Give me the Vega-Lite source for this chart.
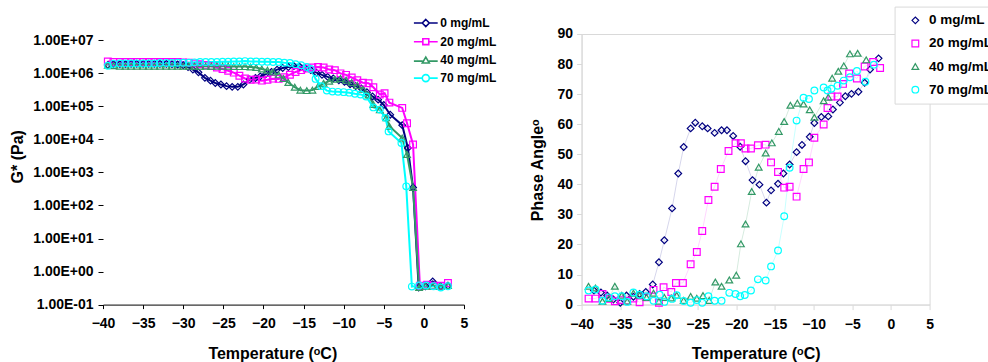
{
  "$schema": "https://vega.github.io/schema/vega-lite/v6.json",
  "background": "white",
  "padding": {"left": 9, "top": 5, "right": 0, "bottom": 0},
  "bounds": "flush",
  "spacing": 117.6,
  "resolve": {"scale": {"color": "independent", "shape": "independent"}, "legend": {"color": "independent", "shape": "independent"}},
  "config": {
    "font": "Liberation Sans",
    "axis": {"labelFont": "Liberation Sans", "labelFontWeight": "bold", "labelFontSize": 14, "labelColor": "black", "titleFont": "Liberation Sans", "titleFontWeight": "bold", "titleFontSize": 16, "titleColor": "black", "grid": false, "labelFlush": false, "labelOverlap": false, "labelBound": false},
    "legend": {"labelFont": "Liberation Sans", "labelFontWeight": "bold", "labelColor": "black"}
  },
  "datasets": {
    "gstar": [
      {"s":"0 mg/mL","t":-39.4,"g":1.8e6},{"s":"0 mg/mL","t":-38.7,"g":1.9e6},{"s":"0 mg/mL","t":-37.9,"g":1.9e6},{"s":"0 mg/mL","t":-37.2,"g":1.9e6},{"s":"0 mg/mL","t":-36.5,"g":1.95e6},{"s":"0 mg/mL","t":-35.8,"g":1.95e6},{"s":"0 mg/mL","t":-35.0,"g":1.95e6},{"s":"0 mg/mL","t":-34.3,"g":1.95e6},{"s":"0 mg/mL","t":-33.6,"g":1.95e6},{"s":"0 mg/mL","t":-32.9,"g":1.95e6},{"s":"0 mg/mL","t":-32.1,"g":1.95e6},{"s":"0 mg/mL","t":-31.4,"g":1.9e6},{"s":"0 mg/mL","t":-30.7,"g":1.85e6},{"s":"0 mg/mL","t":-30.0,"g":1.75e6},{"s":"0 mg/mL","t":-29.4,"g":1.55e6},{"s":"0 mg/mL","t":-28.8,"g":1.3e6},{"s":"0 mg/mL","t":-28.1,"g":1.07e6},{"s":"0 mg/mL","t":-27.3,"g":7.3e5},{"s":"0 mg/mL","t":-26.6,"g":6.0e5},{"s":"0 mg/mL","t":-26.0,"g":5.1e5},{"s":"0 mg/mL","t":-25.3,"g":4.6e5},{"s":"0 mg/mL","t":-24.6,"g":4.1e5},{"s":"0 mg/mL","t":-23.9,"g":3.9e5},{"s":"0 mg/mL","t":-23.2,"g":3.9e5},{"s":"0 mg/mL","t":-22.5,"g":4.6e5},{"s":"0 mg/mL","t":-21.7,"g":6.5e5},{"s":"0 mg/mL","t":-21.0,"g":7.2e5},{"s":"0 mg/mL","t":-20.4,"g":8.1e5},{"s":"0 mg/mL","t":-19.7,"g":9.5e5},{"s":"0 mg/mL","t":-19.0,"g":1.1e6},{"s":"0 mg/mL","t":-18.3,"g":1.3e6},{"s":"0 mg/mL","t":-17.6,"g":1.45e6},{"s":"0 mg/mL","t":-16.9,"g":1.55e6},{"s":"0 mg/mL","t":-16.2,"g":1.65e6},{"s":"0 mg/mL","t":-15.5,"g":1.6e6},{"s":"0 mg/mL","t":-14.8,"g":1.45e6},{"s":"0 mg/mL","t":-14.1,"g":1.25e6},{"s":"0 mg/mL","t":-13.4,"g":1.05e6},{"s":"0 mg/mL","t":-12.7,"g":9.0e5},{"s":"0 mg/mL","t":-12.0,"g":7.8e5},{"s":"0 mg/mL","t":-11.3,"g":7.0e5},{"s":"0 mg/mL","t":-10.6,"g":6.2e5},{"s":"0 mg/mL","t":-9.9,"g":5.5e5},{"s":"0 mg/mL","t":-9.2,"g":4.7e5},{"s":"0 mg/mL","t":-8.5,"g":4.1e5},{"s":"0 mg/mL","t":-7.8,"g":3.5e5},{"s":"0 mg/mL","t":-7.1,"g":2.7e5},{"s":"0 mg/mL","t":-6.4,"g":2.0e5},{"s":"0 mg/mL","t":-5.7,"g":1.6e5},{"s":"0 mg/mL","t":-5.0,"g":1.1e5},{"s":"0 mg/mL","t":-4.2,"g":5.6e4},{"s":"0 mg/mL","t":-2.7,"g":2.7e4},{"s":"0 mg/mL","t":-2.0,"g":5.5e3},{"s":"0 mg/mL","t":-1.35,"g":350},{"s":"0 mg/mL","t":-0.65,"g":0.33},{"s":"0 mg/mL","t":0.2,"g":0.36},{"s":"0 mg/mL","t":1.1,"g":0.5},{"s":"0 mg/mL","t":2.1,"g":0.36},{"s":"0 mg/mL","t":3.0,"g":0.37},
      {"s":"20 mg/mL","t":-39.4,"g":2.3e6},{"s":"20 mg/mL","t":-38.7,"g":2.2e6},{"s":"20 mg/mL","t":-37.9,"g":2.2e6},{"s":"20 mg/mL","t":-37.2,"g":2.2e6},{"s":"20 mg/mL","t":-36.5,"g":2.2e6},{"s":"20 mg/mL","t":-35.8,"g":2.2e6},{"s":"20 mg/mL","t":-35.0,"g":2.2e6},{"s":"20 mg/mL","t":-34.3,"g":2.2e6},{"s":"20 mg/mL","t":-33.6,"g":2.2e6},{"s":"20 mg/mL","t":-32.9,"g":2.2e6},{"s":"20 mg/mL","t":-32.1,"g":2.2e6},{"s":"20 mg/mL","t":-31.4,"g":2.2e6},{"s":"20 mg/mL","t":-30.7,"g":2.2e6},{"s":"20 mg/mL","t":-30.0,"g":2.15e6},{"s":"20 mg/mL","t":-29.3,"g":2.1e6},{"s":"20 mg/mL","t":-28.6,"g":2.0e6},{"s":"20 mg/mL","t":-27.9,"g":1.9e6},{"s":"20 mg/mL","t":-27.2,"g":1.8e6},{"s":"20 mg/mL","t":-26.5,"g":1.65e6},{"s":"20 mg/mL","t":-25.8,"g":1.5e6},{"s":"20 mg/mL","t":-25.1,"g":1.35e6},{"s":"20 mg/mL","t":-24.4,"g":1.2e6},{"s":"20 mg/mL","t":-23.7,"g":1.05e6},{"s":"20 mg/mL","t":-23.0,"g":8.5e5},{"s":"20 mg/mL","t":-22.3,"g":7.0e5},{"s":"20 mg/mL","t":-21.6,"g":6.4e5},{"s":"20 mg/mL","t":-20.9,"g":6.5e5},{"s":"20 mg/mL","t":-20.2,"g":6.0e5},{"s":"20 mg/mL","t":-19.5,"g":6.4e5},{"s":"20 mg/mL","t":-18.8,"g":6.9e5},{"s":"20 mg/mL","t":-18.1,"g":6.8e5},{"s":"20 mg/mL","t":-17.4,"g":7.6e5},{"s":"20 mg/mL","t":-16.7,"g":9.1e5},{"s":"20 mg/mL","t":-16.0,"g":1.1e6},{"s":"20 mg/mL","t":-15.3,"g":1.25e6},{"s":"20 mg/mL","t":-14.6,"g":1.4e6},{"s":"20 mg/mL","t":-13.9,"g":1.5e6},{"s":"20 mg/mL","t":-13.2,"g":1.55e6},{"s":"20 mg/mL","t":-12.5,"g":1.5e6},{"s":"20 mg/mL","t":-11.8,"g":1.3e6},{"s":"20 mg/mL","t":-11.1,"g":1.25e6},{"s":"20 mg/mL","t":-10.4,"g":1.0e6},{"s":"20 mg/mL","t":-9.7,"g":9.0e5},{"s":"20 mg/mL","t":-9.0,"g":7.5e5},{"s":"20 mg/mL","t":-8.3,"g":6.2e5},{"s":"20 mg/mL","t":-7.6,"g":5.2e5},{"s":"20 mg/mL","t":-6.9,"g":5.0e5},{"s":"20 mg/mL","t":-6.3,"g":3.8e5},{"s":"20 mg/mL","t":-5.5,"g":2.3e5},{"s":"20 mg/mL","t":-4.9,"g":2.5e5},{"s":"20 mg/mL","t":-4.3,"g":1.3e5},{"s":"20 mg/mL","t":-2.7,"g":9.0e4},{"s":"20 mg/mL","t":-2.1,"g":3.1e4},{"s":"20 mg/mL","t":-1.35,"g":7.0e3},{"s":"20 mg/mL","t":-0.5,"g":0.37},{"s":"20 mg/mL","t":0.4,"g":0.4},{"s":"20 mg/mL","t":1.2,"g":0.37},{"s":"20 mg/mL","t":2.1,"g":0.37},{"s":"20 mg/mL","t":3.0,"g":0.45},
      {"s":"40 mg/mL","t":-39.4,"g":1.75e6},{"s":"40 mg/mL","t":-38.7,"g":1.7e6},{"s":"40 mg/mL","t":-37.9,"g":1.65e6},{"s":"40 mg/mL","t":-37.2,"g":1.65e6},{"s":"40 mg/mL","t":-36.5,"g":1.65e6},{"s":"40 mg/mL","t":-35.8,"g":1.65e6},{"s":"40 mg/mL","t":-35.0,"g":1.65e6},{"s":"40 mg/mL","t":-34.3,"g":1.65e6},{"s":"40 mg/mL","t":-33.6,"g":1.65e6},{"s":"40 mg/mL","t":-32.9,"g":1.65e6},{"s":"40 mg/mL","t":-32.1,"g":1.65e6},{"s":"40 mg/mL","t":-31.4,"g":1.65e6},{"s":"40 mg/mL","t":-30.7,"g":1.65e6},{"s":"40 mg/mL","t":-30.0,"g":1.65e6},{"s":"40 mg/mL","t":-29.3,"g":1.65e6},{"s":"40 mg/mL","t":-28.6,"g":1.65e6},{"s":"40 mg/mL","t":-27.9,"g":1.65e6},{"s":"40 mg/mL","t":-27.2,"g":1.65e6},{"s":"40 mg/mL","t":-26.5,"g":1.65e6},{"s":"40 mg/mL","t":-25.8,"g":1.65e6},{"s":"40 mg/mL","t":-25.1,"g":1.65e6},{"s":"40 mg/mL","t":-24.4,"g":1.65e6},{"s":"40 mg/mL","t":-23.7,"g":1.6e6},{"s":"40 mg/mL","t":-23.0,"g":1.6e6},{"s":"40 mg/mL","t":-22.3,"g":1.6e6},{"s":"40 mg/mL","t":-21.6,"g":1.55e6},{"s":"40 mg/mL","t":-20.9,"g":1.5e6},{"s":"40 mg/mL","t":-20.2,"g":1.35e6},{"s":"40 mg/mL","t":-19.5,"g":1.25e6},{"s":"40 mg/mL","t":-18.8,"g":1.1e6},{"s":"40 mg/mL","t":-18.1,"g":9.0e5},{"s":"40 mg/mL","t":-17.5,"g":7.0e5},{"s":"40 mg/mL","t":-16.9,"g":5.3e5},{"s":"40 mg/mL","t":-16.1,"g":3.8e5},{"s":"40 mg/mL","t":-15.4,"g":3.1e5},{"s":"40 mg/mL","t":-14.6,"g":3.0e5},{"s":"40 mg/mL","t":-13.9,"g":3.1e5},{"s":"40 mg/mL","t":-13.2,"g":4.0e5},{"s":"40 mg/mL","t":-12.5,"g":5.0e5},{"s":"40 mg/mL","t":-11.8,"g":5.8e5},{"s":"40 mg/mL","t":-11.1,"g":6.6e5},{"s":"40 mg/mL","t":-10.4,"g":7.0e5},{"s":"40 mg/mL","t":-9.7,"g":6.2e5},{"s":"40 mg/mL","t":-9.0,"g":5.3e5},{"s":"40 mg/mL","t":-8.3,"g":4.3e5},{"s":"40 mg/mL","t":-7.6,"g":3.3e5},{"s":"40 mg/mL","t":-6.9,"g":2.2e5},{"s":"40 mg/mL","t":-6.3,"g":1.15e5},{"s":"40 mg/mL","t":-5.5,"g":7.9e4},{"s":"40 mg/mL","t":-4.7,"g":4.5e4},{"s":"40 mg/mL","t":-4.3,"g":2.5e4},{"s":"40 mg/mL","t":-2.7,"g":1.1e4},{"s":"40 mg/mL","t":-2.1,"g":3.5e3},{"s":"40 mg/mL","t":-1.35,"g":350},{"s":"40 mg/mL","t":-0.6,"g":0.33},{"s":"40 mg/mL","t":0.2,"g":0.36},{"s":"40 mg/mL","t":1.1,"g":0.36},{"s":"40 mg/mL","t":2.1,"g":0.36},{"s":"40 mg/mL","t":3.0,"g":0.38},
      {"s":"70 mg/mL","t":-39.4,"g":1.7e6},{"s":"70 mg/mL","t":-38.7,"g":1.95e6},{"s":"70 mg/mL","t":-37.9,"g":2.0e6},{"s":"70 mg/mL","t":-37.2,"g":2.0e6},{"s":"70 mg/mL","t":-36.5,"g":2.0e6},{"s":"70 mg/mL","t":-35.8,"g":2.0e6},{"s":"70 mg/mL","t":-35.0,"g":2.0e6},{"s":"70 mg/mL","t":-34.3,"g":2.0e6},{"s":"70 mg/mL","t":-33.6,"g":2.0e6},{"s":"70 mg/mL","t":-32.9,"g":2.05e6},{"s":"70 mg/mL","t":-32.1,"g":2.05e6},{"s":"70 mg/mL","t":-31.4,"g":2.05e6},{"s":"70 mg/mL","t":-30.7,"g":2.1e6},{"s":"70 mg/mL","t":-30.0,"g":2.1e6},{"s":"70 mg/mL","t":-29.3,"g":2.1e6},{"s":"70 mg/mL","t":-28.6,"g":2.15e6},{"s":"70 mg/mL","t":-27.9,"g":2.2e6},{"s":"70 mg/mL","t":-27.2,"g":2.2e6},{"s":"70 mg/mL","t":-26.5,"g":2.2e6},{"s":"70 mg/mL","t":-25.8,"g":2.2e6},{"s":"70 mg/mL","t":-25.1,"g":2.25e6},{"s":"70 mg/mL","t":-24.4,"g":2.25e6},{"s":"70 mg/mL","t":-23.7,"g":2.3e6},{"s":"70 mg/mL","t":-23.0,"g":2.3e6},{"s":"70 mg/mL","t":-22.3,"g":2.35e6},{"s":"70 mg/mL","t":-21.6,"g":2.3e6},{"s":"70 mg/mL","t":-20.9,"g":2.3e6},{"s":"70 mg/mL","t":-20.2,"g":2.25e6},{"s":"70 mg/mL","t":-19.5,"g":2.25e6},{"s":"70 mg/mL","t":-18.8,"g":2.2e6},{"s":"70 mg/mL","t":-18.1,"g":2.2e6},{"s":"70 mg/mL","t":-17.4,"g":2.1e6},{"s":"70 mg/mL","t":-16.7,"g":2.05e6},{"s":"70 mg/mL","t":-16.0,"g":1.9e6},{"s":"70 mg/mL","t":-15.3,"g":1.75e6},{"s":"70 mg/mL","t":-14.6,"g":1.55e6},{"s":"70 mg/mL","t":-14.1,"g":1.35e6},{"s":"70 mg/mL","t":-13.5,"g":6.8e5},{"s":"70 mg/mL","t":-12.8,"g":4.1e5},{"s":"70 mg/mL","t":-12.1,"g":3.0e5},{"s":"70 mg/mL","t":-11.4,"g":2.8e5},{"s":"70 mg/mL","t":-10.7,"g":2.75e5},{"s":"70 mg/mL","t":-10.0,"g":2.7e5},{"s":"70 mg/mL","t":-9.3,"g":2.6e5},{"s":"70 mg/mL","t":-8.6,"g":2.4e5},{"s":"70 mg/mL","t":-7.9,"g":2.3e5},{"s":"70 mg/mL","t":-7.2,"g":2.0e5},{"s":"70 mg/mL","t":-6.3,"g":9.3e4},{"s":"70 mg/mL","t":-5.5,"g":8.0e4},{"s":"70 mg/mL","t":-4.8,"g":4.5e4},{"s":"70 mg/mL","t":-4.4,"g":1.75e4},{"s":"70 mg/mL","t":-2.8,"g":7.8e3},{"s":"70 mg/mL","t":-2.2,"g":380},{"s":"70 mg/mL","t":-1.5,"g":0.35},{"s":"70 mg/mL","t":-0.6,"g":0.38},{"s":"70 mg/mL","t":0.3,"g":0.38},{"s":"70 mg/mL","t":1.2,"g":0.36},{"s":"70 mg/mL","t":2.1,"g":0.33},{"s":"70 mg/mL","t":3.0,"g":0.36}
    ],
    "phase": [
      {"s":"0 mg/mL","t":-38.4,"p":4.7},{"s":"0 mg/mL","t":-37.5,"p":4.0},{"s":"0 mg/mL","t":-36.7,"p":3.0},{"s":"0 mg/mL","t":-35.9,"p":1.7},{"s":"0 mg/mL","t":-35.0,"p":0.6},{"s":"0 mg/mL","t":-34.2,"p":3.0},{"s":"0 mg/mL","t":-33.3,"p":2.6},{"s":"0 mg/mL","t":-32.5,"p":3.5},{"s":"0 mg/mL","t":-31.7,"p":4.2},{"s":"0 mg/mL","t":-30.8,"p":6.7},{"s":"0 mg/mL","t":-30.0,"p":14.1},{"s":"0 mg/mL","t":-29.3,"p":21.4},{"s":"0 mg/mL","t":-28.3,"p":32.0},{"s":"0 mg/mL","t":-27.5,"p":43.6},{"s":"0 mg/mL","t":-26.8,"p":52.4},{"s":"0 mg/mL","t":-25.9,"p":58.6},{"s":"0 mg/mL","t":-25.3,"p":60.5},{"s":"0 mg/mL","t":-24.4,"p":59.3},{"s":"0 mg/mL","t":-23.7,"p":58.6},{"s":"0 mg/mL","t":-22.8,"p":57.1},{"s":"0 mg/mL","t":-21.9,"p":58.0},{"s":"0 mg/mL","t":-21.2,"p":58.0},{"s":"0 mg/mL","t":-20.4,"p":56.1},{"s":"0 mg/mL","t":-19.5,"p":52.5},{"s":"0 mg/mL","t":-18.8,"p":47.7},{"s":"0 mg/mL","t":-17.9,"p":41.4},{"s":"0 mg/mL","t":-17.0,"p":39.9},{"s":"0 mg/mL","t":-16.1,"p":33.9},{"s":"0 mg/mL","t":-15.5,"p":38.0},{"s":"0 mg/mL","t":-14.6,"p":40.2},{"s":"0 mg/mL","t":-13.9,"p":43.6},{"s":"0 mg/mL","t":-13.1,"p":46.6},{"s":"0 mg/mL","t":-12.2,"p":50.7},{"s":"0 mg/mL","t":-11.5,"p":53.1},{"s":"0 mg/mL","t":-10.5,"p":55.8},{"s":"0 mg/mL","t":-9.9,"p":60.4},{"s":"0 mg/mL","t":-9.0,"p":62.4},{"s":"0 mg/mL","t":-8.1,"p":62.6},{"s":"0 mg/mL","t":-7.5,"p":64.9},{"s":"0 mg/mL","t":-6.6,"p":67.2},{"s":"0 mg/mL","t":-5.9,"p":69.3},{"s":"0 mg/mL","t":-5.1,"p":70.1},{"s":"0 mg/mL","t":-4.2,"p":70.8},{"s":"0 mg/mL","t":-3.4,"p":73.8},{"s":"0 mg/mL","t":-2.7,"p":78.2},{"s":"0 mg/mL","t":-1.6,"p":81.9},
      {"s":"20 mg/mL","t":-39.1,"p":2.0},{"s":"20 mg/mL","t":-38.2,"p":2.0},{"s":"20 mg/mL","t":-37.3,"p":3.5},{"s":"20 mg/mL","t":-36.4,"p":1.9},{"s":"20 mg/mL","t":-35.7,"p":1.1},{"s":"20 mg/mL","t":-34.9,"p":1.5},{"s":"20 mg/mL","t":-34.1,"p":1.3},{"s":"20 mg/mL","t":-33.3,"p":2.0},{"s":"20 mg/mL","t":-32.5,"p":0.8},{"s":"20 mg/mL","t":-31.6,"p":2.4},{"s":"20 mg/mL","t":-30.7,"p":4.9},{"s":"20 mg/mL","t":-30.0,"p":0.6},{"s":"20 mg/mL","t":-29.4,"p":5.8},{"s":"20 mg/mL","t":-28.4,"p":4.2},{"s":"20 mg/mL","t":-27.8,"p":7.2},{"s":"20 mg/mL","t":-26.9,"p":7.2},{"s":"20 mg/mL","t":-25.9,"p":13.4},{"s":"20 mg/mL","t":-25.1,"p":17.5},{"s":"20 mg/mL","t":-24.4,"p":24.5},{"s":"20 mg/mL","t":-23.6,"p":34.8},{"s":"20 mg/mL","t":-22.8,"p":39.2},{"s":"20 mg/mL","t":-22.0,"p":45.1},{"s":"20 mg/mL","t":-21.0,"p":51.1},{"s":"20 mg/mL","t":-20.1,"p":53.7},{"s":"20 mg/mL","t":-19.4,"p":53.7},{"s":"20 mg/mL","t":-18.8,"p":51.9},{"s":"20 mg/mL","t":-18.1,"p":51.9},{"s":"20 mg/mL","t":-17.2,"p":53.0},{"s":"20 mg/mL","t":-16.2,"p":53.2},{"s":"20 mg/mL","t":-15.5,"p":47.3},{"s":"20 mg/mL","t":-14.6,"p":44.1},{"s":"20 mg/mL","t":-13.8,"p":38.9},{"s":"20 mg/mL","t":-13.1,"p":39.2},{"s":"20 mg/mL","t":-12.2,"p":35.9},{"s":"20 mg/mL","t":-11.3,"p":45.1},{"s":"20 mg/mL","t":-10.6,"p":47.3},{"s":"20 mg/mL","t":-9.9,"p":55.5},{"s":"20 mg/mL","t":-8.7,"p":59.9},{"s":"20 mg/mL","t":-8.2,"p":65.4},{"s":"20 mg/mL","t":-7.7,"p":69.2},{"s":"20 mg/mL","t":-6.9,"p":69.2},{"s":"20 mg/mL","t":-6.2,"p":73.4},{"s":"20 mg/mL","t":-5.4,"p":76.9},{"s":"20 mg/mL","t":-4.4,"p":75.2},{"s":"20 mg/mL","t":-3.4,"p":79.2},{"s":"20 mg/mL","t":-2.3,"p":80.7},{"s":"20 mg/mL","t":-1.4,"p":78.7},
      {"s":"40 mg/mL","t":-39.1,"p":6.1},{"s":"40 mg/mL","t":-38.2,"p":5.5},{"s":"40 mg/mL","t":-37.3,"p":1.1},{"s":"40 mg/mL","t":-36.5,"p":2.0},{"s":"40 mg/mL","t":-35.7,"p":6.1},{"s":"40 mg/mL","t":-34.8,"p":3.1},{"s":"40 mg/mL","t":-34.1,"p":1.1},{"s":"40 mg/mL","t":-33.3,"p":3.8},{"s":"40 mg/mL","t":-32.5,"p":3.1},{"s":"40 mg/mL","t":-31.6,"p":2.4},{"s":"40 mg/mL","t":-30.7,"p":3.8},{"s":"40 mg/mL","t":-30.0,"p":1.1},{"s":"40 mg/mL","t":-29.3,"p":2.4},{"s":"40 mg/mL","t":-28.4,"p":2.2},{"s":"40 mg/mL","t":-27.7,"p":3.1},{"s":"40 mg/mL","t":-26.8,"p":1.4},{"s":"40 mg/mL","t":-25.9,"p":2.7},{"s":"40 mg/mL","t":-25.1,"p":2.1},{"s":"40 mg/mL","t":-24.3,"p":3.0},{"s":"40 mg/mL","t":-23.5,"p":1.4},{"s":"40 mg/mL","t":-22.7,"p":7.5},{"s":"40 mg/mL","t":-21.9,"p":6.1},{"s":"40 mg/mL","t":-20.9,"p":8.2},{"s":"40 mg/mL","t":-20.0,"p":9.8},{"s":"40 mg/mL","t":-19.4,"p":20.2},{"s":"40 mg/mL","t":-18.8,"p":26.8},{"s":"40 mg/mL","t":-18.0,"p":37.6},{"s":"40 mg/mL","t":-17.1,"p":45.7},{"s":"40 mg/mL","t":-16.2,"p":50.4},{"s":"40 mg/mL","t":-15.4,"p":53.8},{"s":"40 mg/mL","t":-14.5,"p":57.6},{"s":"40 mg/mL","t":-13.8,"p":60.9},{"s":"40 mg/mL","t":-13.0,"p":66.3},{"s":"40 mg/mL","t":-12.1,"p":67.0},{"s":"40 mg/mL","t":-11.3,"p":66.7},{"s":"40 mg/mL","t":-10.5,"p":64.8},{"s":"40 mg/mL","t":-9.9,"p":62.3},{"s":"40 mg/mL","t":-8.7,"p":67.8},{"s":"40 mg/mL","t":-8.1,"p":69.0},{"s":"40 mg/mL","t":-7.6,"p":75.3},{"s":"40 mg/mL","t":-6.8,"p":77.6},{"s":"40 mg/mL","t":-6.1,"p":79.4},{"s":"40 mg/mL","t":-5.3,"p":83.4},{"s":"40 mg/mL","t":-4.3,"p":83.6},{"s":"40 mg/mL","t":-3.2,"p":81.4},
      {"s":"70 mg/mL","t":-39.1,"p":4.7},{"s":"70 mg/mL","t":-38.2,"p":5.0},{"s":"70 mg/mL","t":-37.3,"p":1.3},{"s":"70 mg/mL","t":-36.5,"p":2.4},{"s":"70 mg/mL","t":-35.7,"p":2.8},{"s":"70 mg/mL","t":-34.8,"p":2.8},{"s":"70 mg/mL","t":-34.1,"p":0.9},{"s":"70 mg/mL","t":-33.3,"p":4.0},{"s":"70 mg/mL","t":-32.5,"p":3.3},{"s":"70 mg/mL","t":-31.6,"p":2.8},{"s":"70 mg/mL","t":-30.7,"p":1.3},{"s":"70 mg/mL","t":-29.9,"p":3.3},{"s":"70 mg/mL","t":-29.3,"p":0.9},{"s":"70 mg/mL","t":-28.3,"p":1.9},{"s":"70 mg/mL","t":-27.7,"p":3.1},{"s":"70 mg/mL","t":-26.8,"p":1.2},{"s":"70 mg/mL","t":-25.9,"p":0.6},{"s":"70 mg/mL","t":-25.1,"p":1.5},{"s":"70 mg/mL","t":-24.4,"p":0.6},{"s":"70 mg/mL","t":-23.6,"p":2.8},{"s":"70 mg/mL","t":-22.8,"p":1.3},{"s":"70 mg/mL","t":-21.9,"p":1.3},{"s":"70 mg/mL","t":-20.9,"p":3.9},{"s":"70 mg/mL","t":-20.1,"p":3.5},{"s":"70 mg/mL","t":-19.5,"p":2.8},{"s":"70 mg/mL","t":-18.9,"p":3.2},{"s":"70 mg/mL","t":-18.1,"p":4.7},{"s":"70 mg/mL","t":-17.2,"p":8.4},{"s":"70 mg/mL","t":-16.2,"p":8.0},{"s":"70 mg/mL","t":-15.5,"p":12.7},{"s":"70 mg/mL","t":-14.6,"p":18.0},{"s":"70 mg/mL","t":-13.8,"p":29.4},{"s":"70 mg/mL","t":-13.1,"p":45.5},{"s":"70 mg/mL","t":-12.2,"p":61.2},{"s":"70 mg/mL","t":-11.3,"p":68.8},{"s":"70 mg/mL","t":-10.6,"p":68.4},{"s":"70 mg/mL","t":-9.9,"p":71.2},{"s":"70 mg/mL","t":-8.7,"p":72.2},{"s":"70 mg/mL","t":-8.2,"p":71.2},{"s":"70 mg/mL","t":-7.7,"p":71.8},{"s":"70 mg/mL","t":-6.9,"p":72.8},{"s":"70 mg/mL","t":-6.1,"p":74.5},{"s":"70 mg/mL","t":-5.3,"p":75.6},{"s":"70 mg/mL","t":-4.4,"p":77.7},{"s":"70 mg/mL","t":-3.3,"p":74.1},{"s":"70 mg/mL","t":-2.2,"p":79.8}
    ]
  },
  "hconcat": [
    {
      "width": 361,
      "height": 270.6,
      "view": {"stroke": null},
      "data": {"name": "gstar"},
      "encoding": {
        "x": {"field": "t", "type": "quantitative", "scale": {"domain": [-40, 5], "nice": false, "zero": false},
          "axis": {"values": [-40,-35,-30,-25,-20,-15,-10,-5,0,5], "domainColor": "black", "domainWidth": 1, "tickColor": "black", "tickSize": 4, "labelPadding": 8, "title": "Temperature (ᵒC)", "titleX": 169.3, "titleY": 49, "titleBaseline": "middle"}},
        "y": {"field": "g", "type": "quantitative", "scale": {"type": "log", "domain": [0.1, 15520000], "nice": false},
          "axis": {"values": [0.1,1,10,100,1000,10000,100000,1000000,10000000], "domain": false, "tickColor": "black", "tickSize": 5, "labelPadding": 5,
            "labelExpr": "'1.00E' + (round(log(datum.value)/LN10) < 0 ? '-' : '+') + (abs(round(log(datum.value)/LN10)) < 10 ? '0' : '') + abs(round(log(datum.value)/LN10))",
            "title": "G* (Pa)", "titleX": -85.2, "titleY": 122.3, "titleBaseline": "middle"}}
      },
      "layer": [
        {
          "data": {"values": [{}]},
          "mark": {"type": "rule", "color": "black", "strokeWidth": 1},
          "encoding": {"x": {"datum": -40, "type": "quantitative"}, "y": {"datum": 0.1, "type": "quantitative"}, "y2": {"datum": 10000000}}
        },
        {
          "mark": {"type": "line", "strokeWidth": 2},
          "encoding": {
            "color": {"field": "s", "type": "nominal",
              "scale": {"domain": ["0 mg/mL","20 mg/mL","40 mg/mL","70 mg/mL"], "range": ["#000080","#FF00FF","#339966","#00FFFF"]}}
          }
        },
        {
          "transform": [{"filter": "false"}],
          "mark": {"type": "point", "filled": false, "size": 49, "strokeWidth": 1.6},
          "encoding": {
            "color": {"field": "s", "type": "nominal",
              "scale": {"domain": ["0 mg/mL","20 mg/mL","40 mg/mL","70 mg/mL"], "range": ["#000080","#FF00FF","#339966","#00FFFF"]},
              "legend": {"orient": "none", "legendX": 316.8, "legendY": -17, "title": null, "labelFontSize": 12, "labelOffset": 8.5, "rowPadding": 4.7, "padding": 0, "symbolOffset": 0, "symbolSize": 49, "symbolStrokeWidth": 1.6, "symbolOpacity": 1}},
            "shape": {"field": "s", "type": "nominal",
              "scale": {"domain": ["0 mg/mL","20 mg/mL","40 mg/mL","70 mg/mL"], "range": ["M-3.4,0H-1M1,0H3.4M0,-1L1,0L0,1L-1,0Z", "M-3.4,0H-0.85M0.85,0H3.4M-0.85,-0.85H0.85V0.85H-0.85Z", "M-3.4,0.2H-0.9M0.9,0.2H3.4M0,-0.95L1,0.75H-1Z", "M-3.4,0H-1M1,0H3.4M1,0A1,1,0,1,1,-1,0A1,1,0,1,1,1,0Z"]},
              "legend": {"orient": "none", "legendX": 316.8, "legendY": -17, "title": null, "labelFontSize": 12, "labelOffset": 8.5, "rowPadding": 4.7, "padding": 0, "symbolOffset": 0, "symbolSize": 49, "symbolStrokeWidth": 1.6, "symbolOpacity": 1}}
          }
        },
        {"transform": [{"filter": "datum.s == '0 mg/mL'"}], "mark": {"type": "point", "shape": "diamond", "filled": false, "size": 45, "strokeWidth": 1.2, "color": "#000080", "opacity": 1}},
        {"transform": [{"filter": "datum.s == '20 mg/mL'"}], "mark": {"type": "point", "shape": "square", "filled": false, "size": 45, "strokeWidth": 1.2, "color": "#FF00FF", "opacity": 1}},
        {"transform": [{"filter": "datum.s == '40 mg/mL'"}], "mark": {"type": "point", "shape": "triangle-up", "filled": false, "size": 45, "strokeWidth": 1.2, "color": "#339966", "opacity": 1}},
        {"transform": [{"filter": "datum.s == '70 mg/mL'"}], "mark": {"type": "point", "shape": "circle", "filled": false, "size": 45, "strokeWidth": 1.2, "color": "#00FFFF", "opacity": 1}}
      ]
    },
    {
      "width": 348,
      "height": 270.6,
      "view": {"stroke": "#d9d9d9", "strokeWidth": 1},
      "data": {"name": "phase"},
      "encoding": {
        "x": {"field": "t", "type": "quantitative", "scale": {"domain": [-40, 5], "nice": false, "zero": false},
          "axis": {"values": [-40,-35,-30,-25,-20,-15,-10,-5,0,5], "domainColor": "#d9d9d9", "tickColor": "#d9d9d9", "tickSize": 5, "labelPadding": 8, "title": "Temperature (ᵒC)", "titleY": 49, "titleBaseline": "middle"}},
        "y": {"field": "p", "type": "quantitative", "scale": {"domain": [0, 90], "nice": false},
          "axis": {"values": [0,10,20,30,40,50,60,70,80,90], "domainColor": "#d9d9d9", "tickColor": "#d9d9d9", "tickSize": 5, "labelPadding": 4, "title": "Phase Angleᵒ", "titleX": -44, "titleY": 135.8, "titleBaseline": "middle"}}
      },
      "layer": [
        {"transform": [{"filter": "datum.s == '0 mg/mL'"}], "mark": {"type": "line", "strokeWidth": 1, "color": "#d6d6ec"}},
        {"transform": [{"filter": "datum.s == '20 mg/mL'"}], "mark": {"type": "line", "strokeWidth": 1, "color": "#ffd6ff"}},
        {"transform": [{"filter": "datum.s == '40 mg/mL'"}], "mark": {"type": "line", "strokeWidth": 1, "color": "#d6ebdf"}},
        {"transform": [{"filter": "datum.s == '70 mg/mL'"}], "mark": {"type": "line", "strokeWidth": 1, "color": "#c8ffff"}},
        {
          "mark": {"type": "point", "filled": false, "size": 45, "strokeWidth": 1.2, "opacity": 1},
          "encoding": {
            "color": {"field": "s", "type": "nominal", "scale": {"domain": ["0 mg/mL","20 mg/mL","40 mg/mL","70 mg/mL"], "range": ["#000080","#FF00FF","#339966","#00FFFF"]},
              "legend": {"orient": "none", "legendX": 313, "legendY": -27.4, "title": null, "labelFontSize": 13.5, "labelOffset": 7, "rowPadding": 8.1, "padding": 7, "symbolOffset": 7, "symbolSize": 45, "symbolStrokeWidth": 1.2, "symbolOpacity": 1, "strokeColor": "#d9d9d9", "fillColor": "white"}},
            "shape": {"field": "s", "type": "nominal", "scale": {"domain": ["0 mg/mL","20 mg/mL","40 mg/mL","70 mg/mL"], "range": ["diamond","square","triangle-up","circle"]},
              "legend": {"orient": "none", "legendX": 313, "legendY": -27.4, "title": null, "labelFontSize": 13.5, "labelOffset": 7, "rowPadding": 8.1, "padding": 7, "symbolOffset": 7, "symbolSize": 45, "symbolStrokeWidth": 1.2, "symbolOpacity": 1, "strokeColor": "#d9d9d9", "fillColor": "white"}}
          }
        }
      ]
    }
  ]
}
